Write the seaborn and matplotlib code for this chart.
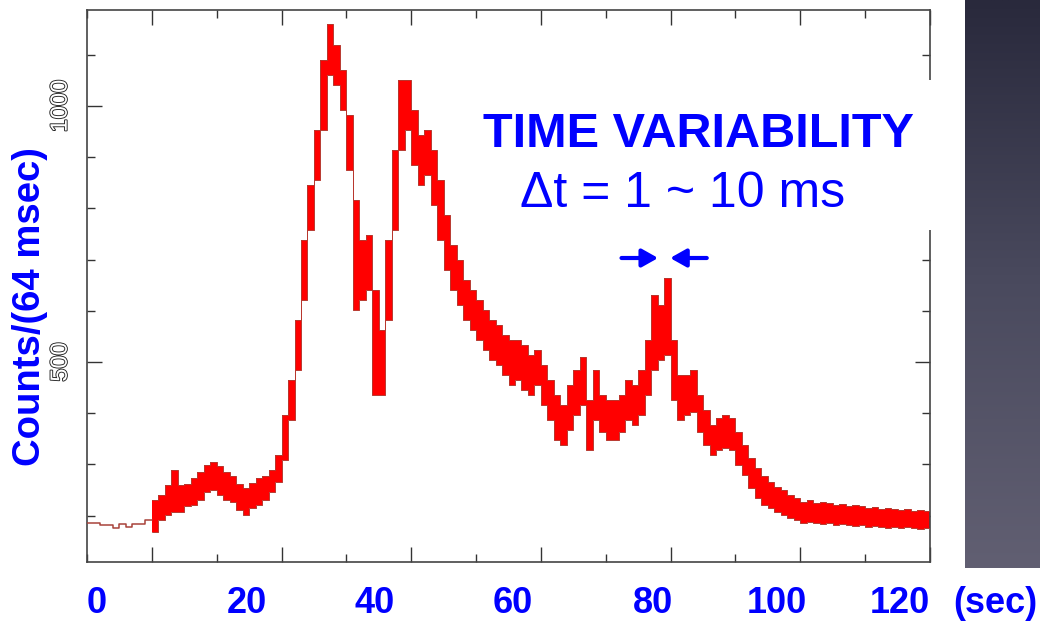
import numpy as np
import matplotlib
matplotlib.use("Agg")
import matplotlib.pyplot as plt
import seaborn as sns
import pandas as pd
from matplotlib import patheffects as pe
from matplotlib.patches import Rectangle
from matplotlib.colors import LinearSegmentedColormap
from matplotlib.ticker import MultipleLocator, FixedLocator

# ---------------- data ----------------
# pre-trigger coarse bins (s) and counts
pre_t = [-10, -9, -8, -7, -6, -5, -4, -3, -2, -1]
pre_counts = [186, 186, 182, 182, 176, 184, 178, 184, 184, 191]

# 1-s bins after trigger: lower / upper envelope of the 64 ms counts
t_bins = list(range(0, 120))
lo = [168, 191, 201, 207, 207, 219, 221, 230, 246, 250,
      240, 230, 227, 211, 201, 215, 221, 230, 246, 266,
      309, 387, 484, 621, 758, 855, 953, 1061, 1041, 992,
      875, 602, 621, 641, 436, 436, 582, 758, 914, 953,
      885, 846, 865, 807, 738, 680, 641, 611, 582, 563,
      543, 523, 504, 494, 475, 455, 465, 445, 436, 455,
      416, 387, 348, 338, 367, 397, 416, 328, 387, 363,
      348, 348, 363, 387, 377, 397, 436, 484, 504, 514,
      426, 387, 397, 402, 363, 338, 318, 328, 332, 328,
      299, 279, 254, 234, 221, 215, 207, 201, 195, 191,
      186, 188, 186, 184, 186, 182, 184, 182, 180, 182,
      178, 180, 178, 176, 178, 176, 178, 176, 174, 176]
hi = [230, 240, 260, 289, 260, 262, 273, 285, 299, 305,
      297, 285, 277, 262, 254, 264, 273, 277, 289, 318,
      397, 465, 582, 738, 846, 953, 1090, 1160, 1119, 1070,
      982, 816, 738, 748, 641, 563, 738, 914, 1051, 1051,
      992, 943, 953, 914, 855, 787, 729, 699, 660, 641,
      621, 602, 582, 572, 553, 543, 543, 533, 514, 523,
      494, 465, 436, 416, 455, 484, 510, 426, 484, 436,
      426, 426, 436, 465, 455, 484, 543, 631, 611, 664,
      543, 475, 475, 484, 436, 406, 377, 391, 397, 391,
      363, 338, 313, 293, 277, 266, 256, 250, 240, 234,
      227, 230, 225, 227, 225, 221, 223, 219, 221, 219,
      215, 217, 213, 215, 213, 211, 213, 209, 211, 209]

x_tick_labels = ["0", "20", "40", "60", "80", "100", "120"]
x_unit = "(sec)"
y_tick_values = [500, 1000]
y_tick_labels = ["500", "1000"]
y_label = "Counts/(64 msec)"
title_text = "TIME VARIABILITY"
sub_text = "\u0394t = 1 ~ 10 ms"

# ---------------- layout ----------------
W, H = 1040, 622
BLUE = "#0000ff"
def fx(px):
    return px / W
def fy(py):
    return 1 - py / H

sns.set_theme(style="white")
plt.rcParams['font.family'] = ['Liberation Sans', 'DejaVu Sans']

fig = plt.figure(figsize=(W / 100, H / 100), dpi=100)
fig.patch.set_facecolor("white")

# dark slide panel on the right
pax = fig.add_axes([fx(965), fy(568), fx(1040) - fx(965), fy(0) - fy(568)])
grad = np.linspace(0, 1, 256).reshape(-1, 1)
cmap = LinearSegmentedColormap.from_list("panel", ["#29293c", "#4a4a5e", "#615f72"])
pax.imshow(grad, aspect="auto", cmap=cmap, extent=[0, 1, 0, 1], origin="upper")
pax.axis("off")

# main light-curve axes
ax = fig.add_axes([fx(87), fy(562), fx(930) - fx(87), fy(10) - fy(562)])
ax.set_facecolor("white")

df = pd.DataFrame({"t": t_bins + [120],
                   "lo": lo + [lo[-1]],
                   "hi": hi + [hi[-1]]})
df_pre = pd.DataFrame({"t": pre_t + [0], "c": pre_counts + [pre_counts[-1]]})

ax.fill_between(df["t"], df["lo"], df["hi"], step="post", color="#ff0000", lw=0, zorder=2)
sns.lineplot(data=df, x="t", y="hi", drawstyle="steps-post", color="#b8372e",
             lw=0.7, ax=ax, zorder=3)
sns.lineplot(data=df, x="t", y="lo", drawstyle="steps-post", color="#b8372e",
             lw=0.7, ax=ax, zorder=3)
sns.lineplot(data=df_pre, x="t", y="c", drawstyle="steps-post", color="#a8423a",
             lw=1.1, ax=ax, zorder=3)

ax.set_xlim(-10, 120)
ax.set_ylim(109.4, 1187.5)
ax.set_xlabel("")
ax.set_ylabel("")

ax.xaxis.set_major_locator(MultipleLocator(20))
ax.xaxis.set_minor_locator(MultipleLocator(10))
ax.yaxis.set_major_locator(FixedLocator(y_tick_values))
ax.yaxis.set_minor_locator(MultipleLocator(100))
ax.tick_params(which="both", direction="in", top=True, right=True, bottom=True, left=True,
               color="#333333", width=1.0, labelbottom=False)
ax.tick_params(which="major", length=11)
ax.tick_params(which="minor", length=6)
ax.tick_params(axis="y", which="major", pad=11)
ax.set_yticklabels(y_tick_labels, rotation=90, va="center", fontsize=17,
                   family=["Liberation Sans Narrow", "Liberation Sans"], color="white",
                   path_effects=[pe.withStroke(linewidth=1.3, foreground="#222222")])
for s in ax.spines.values():
    s.set_color("#444444")
    s.set_linewidth(1.2)

# white box behind the annotation (hides part of the right frame)
fig.add_artist(Rectangle((fx(480), fy(230)), fx(940) - fx(480), fy(80) - fy(230),
                         transform=fig.transFigure, facecolor="white", edgecolor="none",
                         zorder=1))

# annotation texts
fig.text(fx(698), fy(147), title_text, color=BLUE, fontsize=35, fontweight="bold",
         ha="center", va="baseline", zorder=2)
fig.text(fx(683), fy(207), sub_text, color=BLUE, fontsize=36,
         ha="center", va="baseline", zorder=2)

# arrows marking the short spike
arrow_y = 1000 - (258 - 106) / 0.512
ax.annotate("", xy=(78.5, arrow_y), xytext=(72, arrow_y),
            arrowprops=dict(arrowstyle="-|>,head_length=0.8,head_width=0.45", color=BLUE, lw=3))
ax.annotate("", xy=(79.5, arrow_y), xytext=(86, arrow_y),
            arrowprops=dict(arrowstyle="-|>,head_length=0.8,head_width=0.45", color=BLUE, lw=3))

# y axis title
fig.text(fx(30), fy(307), y_label, color=BLUE, fontsize=27.5, fontweight="bold",
         rotation=90, ha="center", va="center")

# slide-style x labels
x_label_px = [97, 247, 375, 513, 653, 777, 900]
for lab, px in zip(x_tick_labels, x_label_px):
    fig.text(fx(px), fy(613), lab, color=BLUE, fontsize=26, fontweight="bold",
             ha="center", va="baseline")
fig.text(fx(995), fy(613), x_unit, color=BLUE, fontsize=26, fontweight="bold",
         ha="center", va="baseline")

fig.savefig("out.png", dpi=100)
